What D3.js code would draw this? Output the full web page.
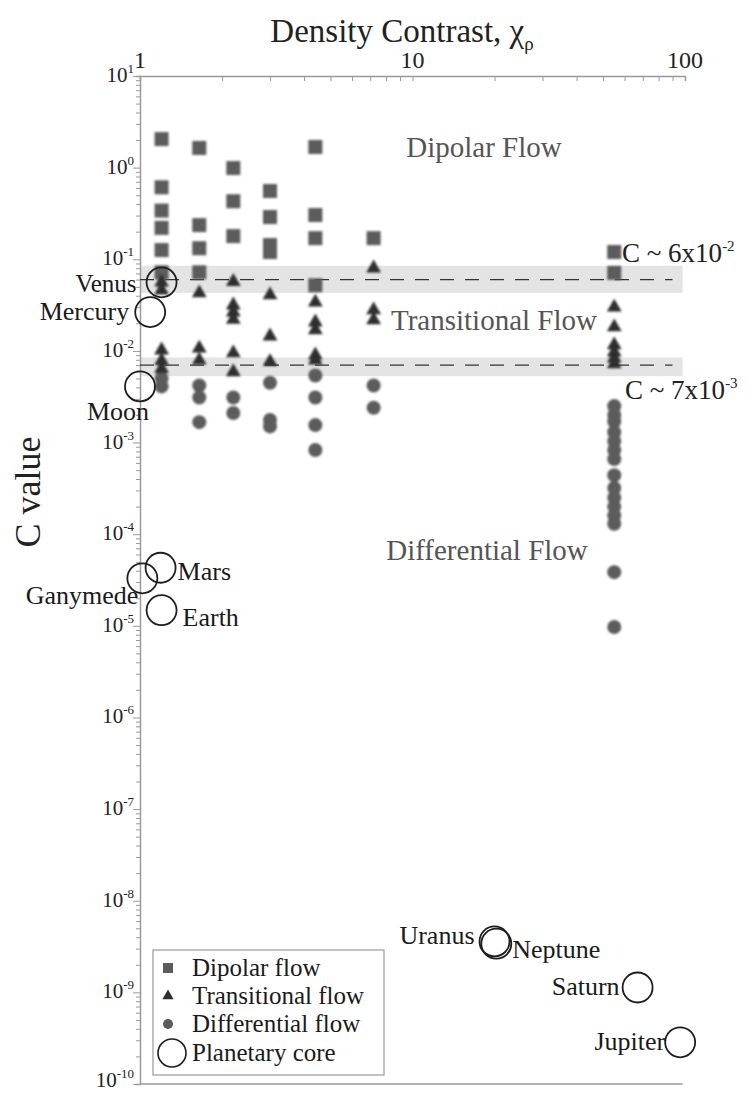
<!DOCTYPE html>
<html>
<head>
<meta charset="utf-8">
<script src="https://cdn.jsdelivr.net/npm/d3@7"></script>
<style>
  html, body { margin: 0; padding: 0; background: #fff; }
  svg { display: block; font-family: "Liberation Serif", "Times New Roman", serif; }
</style>
</head>
<body>
<svg id="chart" width="748" height="1094"></svg>
<script>
// Density contrast columns (x values shared by the simulation runs)
const columns = [1.2, 1.65, 2.2, 3.0, 4.4, 7.2, 55];

// C values per column, grouped by flow regime
const dipolarValues = [
  [2.05, 0.61, 0.34, 0.22, 0.126, 0.072],
  [1.64, 0.236, 0.132, 0.072],
  [0.99, 0.43, 0.179],
  [0.556, 0.289, 0.143, 0.12],
  [1.68, 0.304, 0.17, 0.052],
  [0.17],
  [0.12, 0.071]
];
const transitionalValues = [
  [0.056, 0.046, 0.0102, 0.0078, 0.0064],
  [0.0428, 0.0107, 0.0079],
  [0.057, 0.0316, 0.0265, 0.022, 0.0095, 0.0059],
  [0.0407, 0.0145, 0.0076],
  [0.034, 0.0206, 0.0169, 0.009, 0.0079],
  [0.080, 0.028, 0.0217],
  [0.030, 0.0182, 0.0116, 0.0097, 0.0083, 0.0072]
];
const differentialValues = [
  [0.0050, 0.0041],
  [0.0042, 0.0031, 0.00167],
  [0.0031, 0.0021],
  [0.0045, 0.00176, 0.0015],
  [0.0054, 0.0031, 0.00155, 0.00083],
  [0.0042, 0.0024],
  [0.0025, 0.0020, 0.0017, 0.0013, 0.00104, 0.00083, 0.00066, 0.00044,
   0.00032, 0.00025, 0.0002, 0.00016, 0.00013, 3.85e-5, 9.7e-6]
];

// Planetary cores
const planetNames = ["Venus", "Mercury", "Moon", "Mars", "Ganymede", "Earth",
                     "Uranus", "Neptune", "Saturn", "Jupiter"];
const planetDensity = [1.2, 1.09, 1.0, 1.19, 1.02, 1.2, 20.0, 20.3, 67, 96];
const planetC = [0.056, 0.0265, 0.0041, 4.3e-5, 3.3e-5, 1.48e-5, 3.6e-9, 3.4e-9, 1.13e-9, 2.85e-10];

// Regime boundaries: central value and uncertainty band
const boundaryValues = [0.06, 0.007];
const boundaryBands = [[0.043, 0.085], [0.0053, 0.0085]];
const boundaryLabels = ["6x10", "7x10"];
const boundaryExps = ["-2", "-3"];

const xTickLabels = ["1", "10", "100"];
const yExponents = [1, 0, -1, -2, -3, -4, -5, -6, -7, -8, -9, -10];

const legendLabels = ["Dipolar flow", "Transitional flow", "Differential flow", "Planetary core"];

// ---------------------------------------------------------------
const svg = d3.select("#chart");
const plotLeft = 140, plotRight = 685, plotTop = 76, plotBottom = 1084;

const x = d3.scaleLog().domain([1, 100]).range([plotLeft, plotRight]);
const y = d3.scaleLog().domain([10, 1e-10]).range([plotTop, plotBottom]);

const markColor = "#5b5b5b";
const triColor = "#2e2e2e";

// blur filter for the soft-edged markers
const defs = svg.append("defs");
defs.append("filter").attr("id", "soft").attr("x", "-30%").attr("y", "-30%")
  .attr("width", "160%").attr("height", "160%")
  .append("feGaussianBlur").attr("stdDeviation", 0.9);

// boundary bands
svg.append("g").selectAll("rect").data(boundaryBands).join("rect")
  .attr("x", plotLeft).attr("width", x(98) - plotLeft)
  .attr("y", d => y(d[1])).attr("height", d => y(d[0]) - y(d[1]))
  .attr("fill", "#e4e4e4");

// axes
const axisColor = "#9a9a9a";
const minorX = [];
for (let dec = 1; dec < 100; dec *= 10) for (let k = 1; k < 10; k++) minorX.push(dec * k);
minorX.push(100);
const xAxis = svg.append("g").attr("transform", `translate(0,${plotTop})`)
  .call(d3.axisTop(x).tickValues(minorX).tickSize(-5).tickFormat(""));
xAxis.select(".domain").attr("stroke", axisColor).attr("stroke-width", 1.5);
xAxis.selectAll(".tick line").attr("stroke", axisColor);

svg.append("g").selectAll("text").data(xTickLabels).join("text")
  .attr("x", d => x(+d)).attr("y", plotTop - 8)
  .attr("text-anchor", "middle").attr("font-size", 24).attr("fill", "#222")
  .text(d => d);

const minorY = [];
for (let e = -10; e < 1; e++) for (let k = 1; k < 10; k++) minorY.push(k * Math.pow(10, e));
minorY.push(10);
const yAxis = svg.append("g").attr("transform", `translate(${plotLeft},0)`)
  .call(d3.axisLeft(y).tickValues(minorY).tickSize(4).tickFormat(""));
yAxis.select(".domain").attr("stroke", axisColor).attr("stroke-width", 1.5);
yAxis.selectAll(".tick line").attr("stroke", axisColor)
  .attr("x2", d => Math.abs(Math.log10(d) - Math.round(Math.log10(d))) < 1e-6 ? -7 : -4);

const yLab = svg.append("g").selectAll("text").data(yExponents).join("text")
  .attr("x", plotLeft - 6)
  .attr("y", d => y(Math.pow(10, d)) + (d === -10 ? 3 : 6))
  .attr("text-anchor", "end").attr("font-size", 21).attr("fill", "#222");
yLab.append("tspan").text("10");
yLab.append("tspan").attr("font-size", 13).attr("dy", -9).text(d => String(d));

// bottom frame line
svg.append("line").attr("x1", plotLeft).attr("x2", x(98)).attr("y1", plotBottom).attr("y2", plotBottom)
  .attr("stroke", axisColor).attr("stroke-width", 1.5);

// axis titles
const title = svg.append("text").attr("x", 402).attr("y", 42)
  .attr("text-anchor", "middle").attr("font-size", 33).attr("fill", "#222");
title.append("tspan").text("Density Contrast, χ");
title.append("tspan").attr("font-size", 19).attr("dy", 8).text("ρ");

svg.append("text").attr("transform", "translate(40,492) rotate(-90)")
  .attr("text-anchor", "middle").attr("font-size", 36).attr("fill", "#222")
  .text("C value");

// dashed boundary lines
svg.append("g").selectAll("line").data(boundaryValues).join("line")
  .attr("x1", plotLeft).attr("x2", x(90))
  .attr("y1", d => y(d)).attr("y2", d => y(d))
  .attr("stroke", "#333").attr("stroke-width", 1.4).attr("stroke-dasharray", "14,11");

// regime labels
const regimes = [["Dipolar Flow", 484, 157], ["Transitional Flow", 494, 330], ["Differential Flow", 487, 560]];
svg.append("g").selectAll("text").data(regimes).join("text")
  .attr("x", d => d[1]).attr("y", d => d[2])
  .attr("text-anchor", "middle").attr("font-size", 29).attr("fill", "#555")
  .text(d => d[0]);

// boundary value labels
const bLab = svg.append("g").selectAll("text").data(boundaryValues).join("text")
  .attr("x", (d, i) => i === 0 ? 622 : 625)
  .attr("y", (d, i) => i === 0 ? 262 : 399)
  .attr("font-size", 27).attr("fill", "#222");
bLab.append("tspan").text((d, i) => "C ~ " + boundaryLabels[i]);
bLab.append("tspan").attr("font-size", 15).attr("dy", -11).text((d, i) => boundaryExps[i]);

// flatten series into points
function flatten(values) {
  const pts = [];
  values.forEach((col, i) => col.forEach(v => pts.push({ x: columns[i], c: v })));
  return pts;
}
const marks = svg.append("g").attr("filter", "url(#soft)");

const sq = 14;
marks.append("g").selectAll("rect").data(flatten(dipolarValues)).join("rect")
  .attr("x", d => x(d.x) - sq / 2).attr("y", d => y(d.c) - sq / 2)
  .attr("width", sq).attr("height", sq).attr("fill", markColor);

marks.append("g").selectAll("circle").data(flatten(differentialValues)).join("circle")
  .attr("cx", d => x(d.x)).attr("cy", d => y(d.c)).attr("r", 7)
  .attr("fill", markColor);

const tri = d3.symbol().type(d3.symbolTriangle).size(95);
marks.append("g").selectAll("path").data(flatten(transitionalValues)).join("path")
  .attr("transform", d => `translate(${x(d.x)},${y(d.c)})`)
  .attr("d", tri).attr("fill", triColor);

// planetary cores
const planets = planetNames.map((n, i) => ({ name: n, x: planetDensity[i], c: planetC[i] }));
svg.append("g").selectAll("circle").data(planets).join("circle")
  .attr("cx", d => x(d.x)).attr("cy", d => y(d.c)).attr("r", 15)
  .attr("fill", "none").attr("stroke", "#1e1e1e").attr("stroke-width", 1.8);

// label placement around each core: [dx, dy, anchor, size]
const labelPlace = {
  Venus: [-25, 2, "end", 25], Mercury: [-21, 0, "end", 26], Moon: [-22, 26, "middle", 26],
  Mars: [17, 4, "start", 26], Ganymede: [-4, 18, "end", 26], Earth: [21, 8, "start", 26],
  Uranus: [-20, -5, "end", 26], Neptune: [16, 6, "start", 26], Saturn: [-18, 0, "end", 26],
  Jupiter: [-15, 0, "end", 26]
};
svg.append("g").selectAll("text").data(planets).join("text")
  .attr("x", d => x(d.x) + labelPlace[d.name][0])
  .attr("y", d => y(d.c) + labelPlace[d.name][1] + 8)
  .attr("text-anchor", d => labelPlace[d.name][2])
  .attr("font-size", d => labelPlace[d.name][3]).attr("fill", "#1a1a1a")
  .text(d => d.name);

// legend
const lg = svg.append("g").attr("transform", "translate(153,950)");
lg.append("rect").attr("width", 231).attr("height", 125)
  .attr("fill", "#fff").attr("stroke", "#999").attr("stroke-width", 1.2);
const rowY = [18, 46, 74, 103];
lg.selectAll("text").data(legendLabels).join("text")
  .attr("x", 39).attr("y", (d, i) => rowY[i] + 8)
  .attr("font-size", 25).attr("fill", "#1a1a1a").text(d => d);
lg.append("rect").attr("x", 10).attr("y", rowY[0] - 5).attr("width", 10).attr("height", 10).attr("fill", markColor);
lg.append("path").attr("transform", `translate(15,${rowY[1]})`).attr("d", d3.symbol().type(d3.symbolTriangle).size(55)).attr("fill", triColor);
lg.append("circle").attr("cx", 15).attr("cy", rowY[2]).attr("r", 5).attr("fill", markColor);
lg.append("circle").attr("cx", 19).attr("cy", rowY[3]).attr("r", 14)
  .attr("fill", "none").attr("stroke", "#1e1e1e").attr("stroke-width", 1.6);
</script>
</body>
</html>
